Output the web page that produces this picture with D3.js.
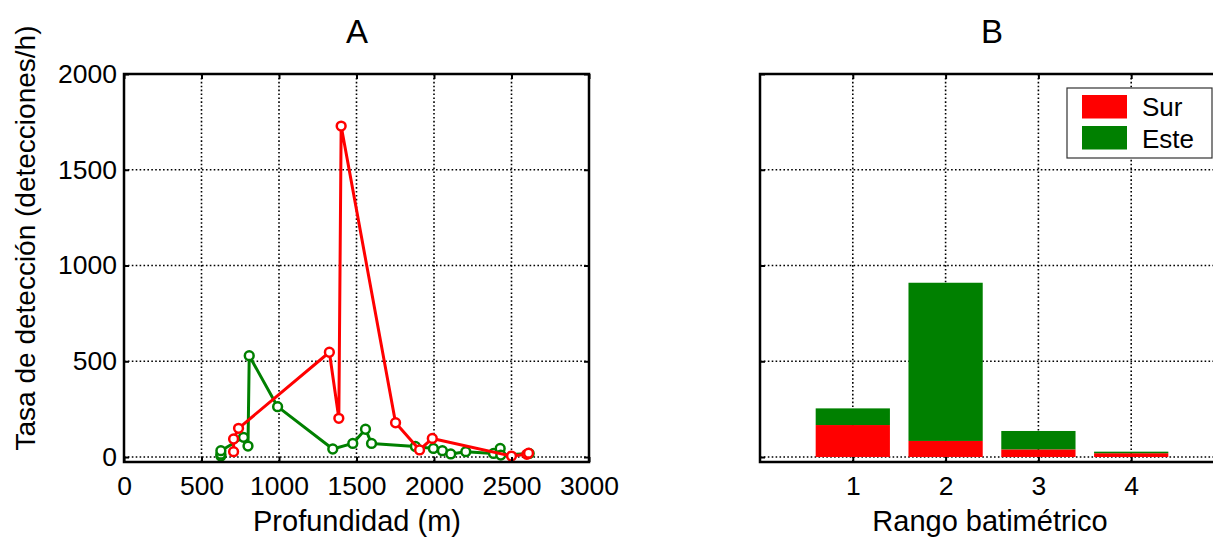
<!DOCTYPE html>
<html>
<head>
<meta charset="utf-8">
<script src="https://cdn.jsdelivr.net/npm/d3@7"></script>
<style>
  body { margin: 0; background: #fff; }
  svg text { font-family: "Liberation Sans", Arial, sans-serif; fill: #000; }
</style>
</head>
<body>
<div id="chart"></div>
<script>
// Panel A: detection rate vs depth
var depthSur = [707, 707, 739, 1325, 1386, 1401, 1752, 1907, 1989, 2500, 2599, 2610];
var rateSur = [28, 94, 150, 547, 202, 1728, 179, 37, 97, 5, 14, 20];
var depthEste = [625, 625, 625, 771, 800, 808, 991, 1347, 1476, 1558, 1597, 1880, 1996, 2054, 2108, 2205, 2384, 2427, 2431, 2614];
var rateEste = [5, 15, 33, 103, 57, 529, 263, 42, 71, 145, 71, 55, 45, 33, 16, 28, 19, 45, 10, 19];

// Panel B: stacked bars per bathymetric range
var ranges = [1, 2, 3, 4];
var barSur = [167, 84, 40, 20];
var barEste = [87, 826, 96, 8];

var xTicksA = [0, 500, 1000, 1500, 2000, 2500, 3000];
var yTicks = [0, 500, 1000, 1500, 2000];

var W = 1213, H = 542;
var RED = "#ff0000", GREEN = "#008000";
var TICK_FS = 26.5, LABEL_FS = 29;

var svg = d3.select("#chart").append("svg")
            .attr("width", W)
            .attr("height", H);

var y = d3.scaleLinear().domain([-26, 2000]).range([462, 74]);
var xA = d3.scaleLinear().domain([0, 3000]).range([124, 589]);
var xB = d3.scaleLinear().domain([0, 5]).range([760, 1224]);

function grid(g, x, xt, yt) {
  var x0 = x.range()[0], x1 = x.range()[1];
  g.selectAll(".gx").data(xt).enter().append("line")
   .attr("x1", function(d) { return x(d); }).attr("x2", function(d) { return x(d); })
   .attr("y1", 74).attr("y2", 462);
  g.selectAll(".gy").data(yt).enter().append("line")
   .attr("x1", x0).attr("x2", x1)
   .attr("y1", function(d) { return y(d); }).attr("y2", function(d) { return y(d); });
  g.selectAll("line")
   .attr("stroke", "#000")
   .attr("stroke-width", 1.6)
   .attr("stroke-dasharray", "1.6,2.3");
}

function frame(x, xt, showY) {
  var x0 = x.range()[0], x1 = x.range()[1];
  var bottom = svg.append("g").attr("transform", "translate(0,462)")
                  .call(d3.axisBottom(x).tickValues(xt).tickSize(-5).tickPadding(14)
                    .tickFormat(d3.format("d")));
  var top = svg.append("g").attr("transform", "translate(0,74)")
               .call(d3.axisTop(x).tickValues(xt).tickSize(-5).tickFormat(""));
  var left = svg.append("g").attr("transform", "translate(" + x0 + ",0)")
                .call(d3.axisLeft(y).tickValues(yTicks).tickSize(-5).tickPadding(7)
                  .tickFormat(showY ? d3.format("d") : function() { return ""; }));
  var right = svg.append("g").attr("transform", "translate(" + x1 + ",0)")
                 .call(d3.axisRight(y).tickValues(yTicks).tickSize(-5).tickFormat(""));
  [bottom, top, left, right].forEach(function(a) {
    a.select(".domain").remove();
    a.selectAll(".tick line").attr("stroke", "#000").attr("stroke-width", 2);
    a.selectAll("text").style("font-size", TICK_FS + "px");
  });
  svg.append("rect")
     .attr("x", x0).attr("y", 74)
     .attr("width", x1 - x0).attr("height", 388)
     .attr("fill", "none")
     .attr("stroke", "#000")
     .attr("stroke-width", 2.5);
}

// ---------- Panel A ----------
var gA = svg.append("g");
grid(gA.append("g"), xA, xTicksA.slice(1, -1), yTicks);

function series(depth, rate, color) {
  var pts = depth.map(function(d, i) { return [d, rate[i]]; });
  var line = d3.line()
               .x(function(d) { return xA(d[0]); })
               .y(function(d) { return y(d[1]); });
  gA.append("path")
    .datum(pts)
    .attr("d", line)
    .attr("fill", "none")
    .attr("stroke", color)
    .attr("stroke-width", 3)
    .attr("stroke-linejoin", "round");
  gA.append("g").selectAll("circle")
    .data(pts).enter().append("circle")
    .attr("cx", function(d) { return xA(d[0]); })
    .attr("cy", function(d) { return y(d[1]); })
    .attr("r", 4.4)
    .attr("fill", "#fff")
    .attr("stroke", color)
    .attr("stroke-width", 2.5);
}
series(depthEste, rateEste, GREEN);
series(depthSur, rateSur, RED);

frame(xA, xTicksA, true);

svg.append("text")
   .attr("x", 357).attr("y", 43)
   .attr("text-anchor", "middle")
   .style("font-size", "33px")
   .text("A");
svg.append("text")
   .attr("x", 357).attr("y", 531)
   .attr("text-anchor", "middle")
   .style("font-size", LABEL_FS + "px")
   .text("Profundidad (m)");
svg.append("text")
   .attr("transform", "translate(35,238) rotate(-90)")
   .attr("text-anchor", "middle")
   .style("font-size", "28px")
   .text("Tasa de detección (detecciones/h)");

// ---------- Panel B ----------
var gB = svg.append("g");
grid(gB.append("g"), xB, ranges, yTicks.slice(0, -1));

var bw = xB(0.8) - xB(0);
gB.selectAll(".sur").data(ranges).enter().append("rect")
  .attr("x", function(d) { return xB(d) - bw / 2; })
  .attr("width", bw)
  .attr("y", function(d, i) { return y(barSur[i]); })
  .attr("height", function(d, i) { return y(0) - y(barSur[i]); })
  .attr("fill", RED);
gB.selectAll(".este").data(ranges).enter().append("rect")
  .attr("x", function(d) { return xB(d) - bw / 2; })
  .attr("width", bw)
  .attr("y", function(d, i) { return y(barSur[i] + barEste[i]); })
  .attr("height", function(d, i) { return y(barSur[i]) - y(barSur[i] + barEste[i]); })
  .attr("fill", GREEN);

frame(xB, ranges, false);

svg.append("text")
   .attr("x", 992).attr("y", 43)
   .attr("text-anchor", "middle")
   .style("font-size", "33px")
   .text("B");
svg.append("text")
   .attr("x", 990).attr("y", 531)
   .attr("text-anchor", "middle")
   .style("font-size", LABEL_FS + "px")
   .text("Rango batimétrico");

// legend
var leg = svg.append("g");
leg.append("rect")
   .attr("x", 1067).attr("y", 88)
   .attr("width", 145).attr("height", 70)
   .attr("fill", "#fff")
   .attr("stroke", "#333")
   .attr("stroke-width", 1.2);
[["Sur", RED], ["Este", GREEN]].forEach(function(e, i) {
  leg.append("rect")
     .attr("x", 1082).attr("y", 95 + i * 31)
     .attr("width", 45).attr("height", 23.5)
     .attr("fill", e[1]);
  leg.append("text")
     .attr("x", 1142).attr("y", 116 + i * 32)
     .style("font-size", "26px")
     .text(e[0]);
});
</script>
</body>
</html>
